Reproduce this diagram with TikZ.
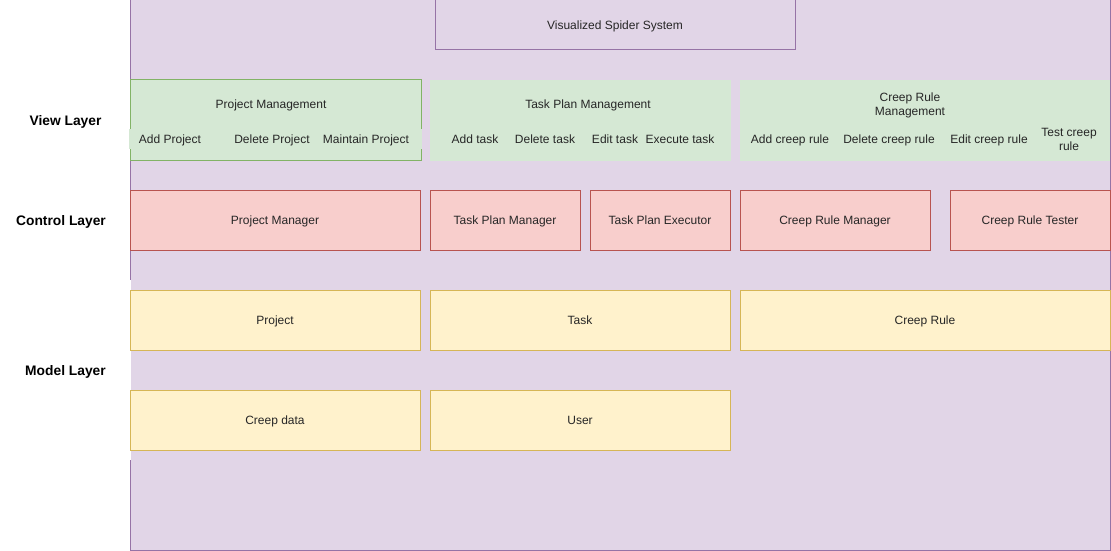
\documentclass[tikz,border=0pt]{standalone}
\usepackage{fontspec}
\setmainfont{Liberation Sans}
\definecolor{purplefill}{HTML}{E1D5E7}
\definecolor{purpleline}{HTML}{9673A6}
\definecolor{greenfill}{HTML}{D5E8D4}
\definecolor{greenline}{HTML}{82B366}
\definecolor{redfill}{HTML}{F8CECC}
\definecolor{redline}{HTML}{B85450}
\definecolor{yellowfill}{HTML}{FFF2CC}
\definecolor{yellowline}{HTML}{D6B656}

\tikzstyle{txt}=[font=\fontsize{12}{14}\selectfont, text=black!85, inner sep=0pt, text height=9.6, text depth=1.4, align=center]
\tikzstyle{twolines}=[text height={}, text depth={}]
\tikzstyle{layername}=[font=\bfseries\fontsize{13.8}{16}\selectfont, fill=white, inner sep=0pt, text height=11.7, text depth=0.7, minimum width=131, align=center]
\tikzstyle{sysbox}=[txt, draw=purpleline, fill=purplefill, line width=1pt]
\tikzstyle{viewbox}=[txt, fill=greenfill, minimum height=80]
\tikzstyle{viewitem}=[txt, fill=greenfill, minimum height=20]
\tikzstyle{ctrlbox}=[txt, draw=redline, fill=redfill, line width=1pt, minimum height=60]
\tikzstyle{modelbox}=[txt, draw=yellowline, fill=yellowfill, line width=1pt, minimum height=60]

\begin{document}
\begin{tikzpicture}[x=1pt, y=-1pt]
    \useasboundingbox (0,0) rectangle (1111,551);
    \node[sysbox, minimum width=980, minimum height=550] (system) at (620,275) {};
    \node[layername, minimum height=80] (viewlayer) at (65.5,120) {View Layer};
    \node[layername, minimum height=60, minimum width=122] (controllayer) at (61,220) {Control Layer};
    \node[layername, minimum height=180] (modellayer) at (65.5,370) {Model Layer};
    \node[sysbox, minimum width=360, minimum height=50] (title) at (615,25) {Visualized Spider System};

    \node[viewbox, draw=greenline, line width=1pt, minimum width=291] (projmgmt) at (275.5,120) {};
    \node[viewbox, minimum width=301, minimum height=81] (taskmgmt) at (580.5,120.5) {};
    \node[viewbox, minimum width=370, minimum height=81] (rulemgmt) at (925,120.5) {};
    \node[txt] (projmgmtname) at (271,104) {Project Management};
    \node[txt] (taskmgmtname) at (588,104) {Task Plan Management};
    \node[txt, twolines] (rulemgmtname) at (910,105) {Creep Rule\\Management};
    \node[viewitem, minimum width=82] (addproject) at (170,139) {Add Project};
    \node[viewitem, minimum width=84] (deleteproject) at (272,139) {Delete Project};
    \node[viewitem, minimum width=112] (maintainproject) at (366,139) {Maintain Project};
    \node[viewitem, minimum width=60] (addtask) at (475,139) {Add task};
    \node[viewitem, minimum width=70] (deletetask) at (545,139) {Delete task};
    \node[viewitem, minimum width=50] (edittask) at (615,139) {Edit task};
    \node[viewitem, minimum width=70] (executetask) at (680,139) {Execute task};
    \node[viewitem, minimum width=90] (addrule) at (790,139) {Add creep rule};
    \node[viewitem, minimum width=100] (deleterule) at (889,139) {Delete creep rule};
    \node[viewitem, minimum width=84] (editrule) at (989,139) {Edit creep rule};
    \node[viewitem, twolines, minimum width=60] (testrule) at (1069,139.5) {Test creep\\rule};

    \node[ctrlbox, minimum width=290] (projmanager) at (275,220) {Project Manager};
    \node[ctrlbox, minimum width=150] (taskmanager) at (505,220) {Task Plan Manager};
    \node[ctrlbox, minimum width=140] (taskexecutor) at (660,220) {Task Plan Executor};
    \node[ctrlbox, minimum width=190] (rulemanager) at (835,220) {Creep Rule Manager};
    \node[ctrlbox, minimum width=160] (ruletester) at (1030,220) {Creep Rule Tester};

    \node[modelbox, minimum width=290] (project) at (275,320) {Project};
    \node[modelbox, minimum width=300] (task) at (580,320) {Task};
    \node[modelbox, minimum width=370] (creeprule) at (925,320) {Creep Rule};
    \node[modelbox, minimum width=290] (creepdata) at (275,420) {Creep data};
    \node[modelbox, minimum width=300] (user) at (580,420) {User};
\end{tikzpicture}
\end{document}
